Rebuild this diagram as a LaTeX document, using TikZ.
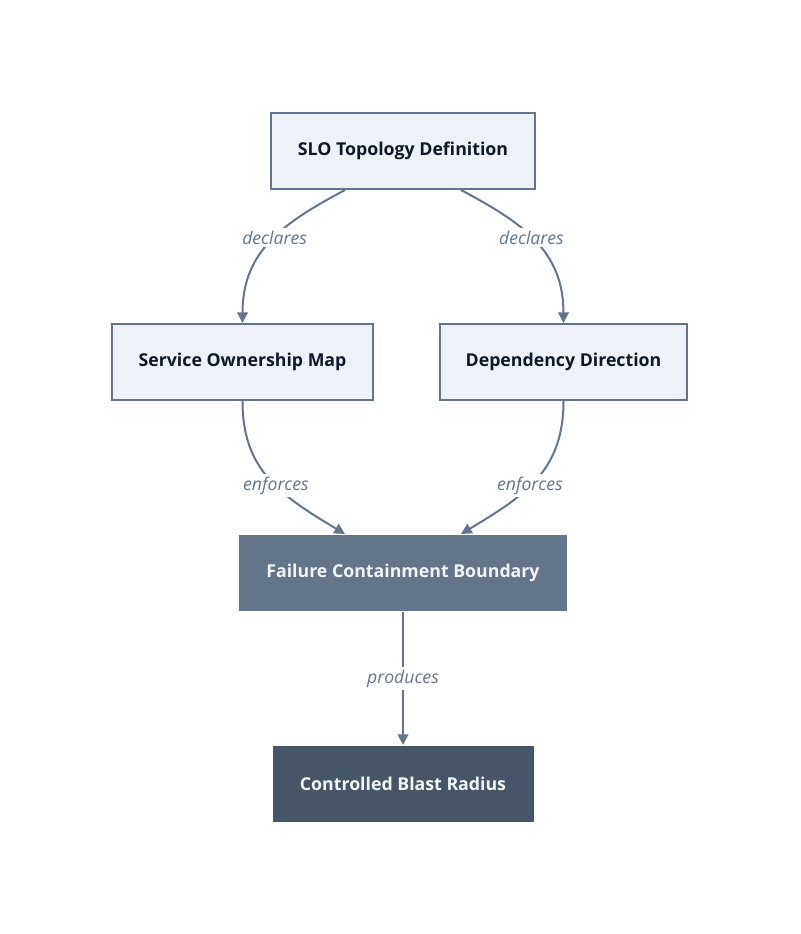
\documentclass[tikz,border=0pt]{standalone}
\usepackage{fontspec}
\setmainfont{Open Sans}
\usepackage{xcolor}
\usetikzlibrary{arrows.meta}

\definecolor{boxfill}{HTML}{EEF2F8}
\definecolor{boxline}{HTML}{64748B}
\definecolor{boxtext}{HTML}{0F172A}
\definecolor{midfill}{HTML}{64748B}
\definecolor{darkfill}{HTML}{475569}
\definecolor{lighttext}{HTML}{F1F5F9}
\definecolor{edgeline}{HTML}{64748B}

\begin{document}
\begin{tikzpicture}[x=0.75pt, y=-0.75pt,
    box/.style={rectangle, draw=boxline, line width=1.5pt, fill=boxfill, text=boxtext,
      font=\fontsize{13.3}{16}\selectfont\bfseries, text centered, minimum height=57pt, inner sep=0pt},
    midbox/.style={box, draw=none, fill=midfill, text=lighttext},
    darkbox/.style={box, draw=none, fill=darkfill, text=lighttext},
    flow/.style={-{Triangle[length=8pt, width=8pt]}, line width=1.5pt, draw=edgeline},
    lbl/.style={fill=white, text=edgeline, font=\fontsize{13.2}{16}\selectfont\itshape, inner sep=2pt}]

    \useasboundingbox (0,0) rectangle (800,934);

    \node[box, minimum width=198pt] (SLO) at (403,151) {SLO Topology Definition};
    \node[box, minimum width=195.75pt] (SOM) at (242.5,362) {Service Ownership Map};
    \node[box, minimum width=185.25pt, right of=SOM, node distance=240.75pt] (DEP) {Dependency Direction};
    \node[midbox, minimum width=246pt] (FCB) at (403,573) {Failure Containment Boundary};
    \node[darkbox, minimum width=195.75pt, below of=FCB, node distance=158.25pt] (CBR) {Controlled Blast Radius};

    \draw[flow] (SLO.south -| 345,0) .. controls (285,222) and (242.5,250) .. (SOM.north) node[lbl, pos=0.47]{declares};
    \draw[flow] (SLO.south -| 461,0) .. controls (521,222) and (563.5,250) .. (DEP.north) node[lbl, pos=0.47]{declares};
    \draw[flow] (SOM.south) .. controls (242.5,470) and (280,495) .. (FCB.north -| 345,0) node[lbl, pos=0.56]{enforces};
    \draw[flow] (DEP.south) .. controls (563.5,470) and (526,495) .. (FCB.north -| 461,0) node[lbl, pos=0.56]{enforces};
    \draw[flow] (FCB) -- node[lbl]{produces} (CBR);
\end{tikzpicture}
\end{document}
